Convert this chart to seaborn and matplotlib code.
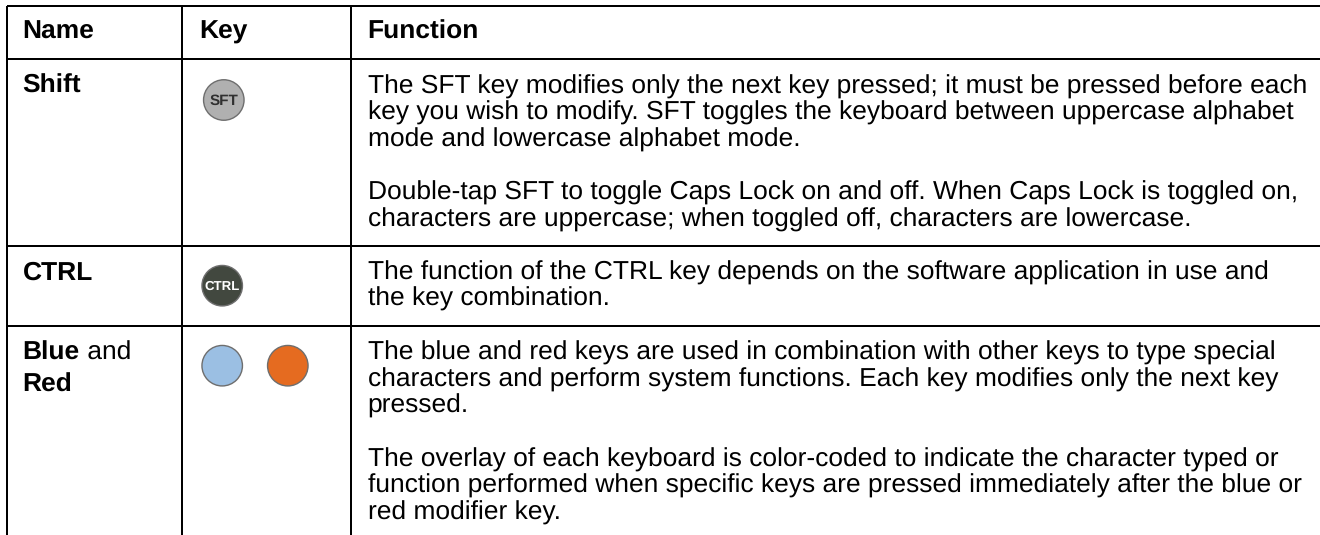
import matplotlib
matplotlib.use('Agg')
import matplotlib.pyplot as plt
import pandas as pd
import seaborn as sns

headers = ['Name', 'Key', 'Function']
row_names = ['Shift', 'CTRL']
shift_text = [
    'The SFT key modifies only the next key pressed; it must be pressed before each',
    'key you wish to modify. SFT toggles the keyboard between uppercase alphabet',
    'mode and lowercase alphabet mode.',
    '',
    'Double-tap SFT to toggle Caps Lock on and off. When Caps Lock is toggled on,',
    'characters are uppercase; when toggled off, characters are lowercase.',
]
ctrl_text = [
    'The function of the CTRL key depends on the software application in use and',
    'the key combination.',
]
blue_red_text = [
    'The blue and red keys are used in combination with other keys to type special',
    'characters and perform system functions. Each key modifies only the next key',
    'pressed.',
    '',
    'The overlay of each keyboard is color-coded to indicate the character typed or',
    'function performed when specific keys are pressed immediately after the blue or',
    'red modifier key.',
]
key_names = ['SFT', 'CTRL', 'blue', 'red']
key_labels = ['SFT', 'CTRL', '', '']
key_colors = ['#b0b0b0', '#42483f', '#9bbfe3', '#e56b20']
key_label_colors = ['#303030', '#ffffff', '#000000', '#000000']
key_label_sizes = [11, 9.5, 9.5, 9.5]

# layout in pixels
col_x = [6.5, 182, 351]
row_y = [6, 59, 245.5, 326]
line_h = 26.6
font_px = 26.4
key_x = [223.8, 222.2, 222.2, 287.8]
key_y = [100, 285.7, 365.7, 365.7]

sns.set_theme(style='white')
plt.rcParams['font.family'] = ['Liberation Sans', 'DejaVu Sans']
plt.rcParams['text.hinting'] = 'none'

fig = plt.figure(figsize=(13.2, 5.35), dpi=100)
ax = fig.add_axes([0, 0, 1, 1])

fs = font_px * 72 / 100
rule = 2 * 72 / 100

# table rules, no right edge or bottom rule in the source
for x in col_x:
    ax.plot([x, x], [row_y[0], 535], color='black', lw=rule, solid_capstyle='butt')
for y in row_y:
    ax.plot([col_x[0], 1320], [y, y], color='black', lw=rule, solid_capstyle='butt')

# key buttons
keys = pd.DataFrame({'x': key_x, 'y': key_y, 'key': key_names})
sns.scatterplot(data=keys, x='x', y='y', hue='key', palette=dict(zip(key_names, key_colors)),
                s=850, edgecolor='#6e6e6e', linewidth=1, legend=False, ax=ax, clip_on=False)
ax.set_xlim(0, 1320)
ax.set_ylim(535, 0)
ax.axis('off')
for x, y, lab, c, size in zip(key_x, key_y, key_labels, key_label_colors, key_label_sizes):
    if lab:
        ax.text(x, y + 0.7, lab, ha='center', va='center', fontsize=size, weight='bold', color=c)

# header row
for x, h in zip([22.7, 199.3, 367.7], headers):
    ax.text(x, 38.8, h, fontsize=fs, weight='bold', color='black')

# first column
ax.text(22.7, 93.2, row_names[0], fontsize=fs, weight='bold', color='black')
ax.text(22.7, 279.5, row_names[1], fontsize=fs, weight='bold', color='black')
blue = ax.text(22.7, 359.8, 'Blue', fontsize=fs, weight='bold', color='black')
ax.annotate(' and', xy=(1, 0), xycoords=blue, va='bottom', fontsize=fs, color='black')
ax.text(22.7, 392.2, 'Red', fontsize=fs, weight='bold', color='black')

# function column
for start, lines in [(93.2, shift_text), (279.5, ctrl_text), (359.8, blue_red_text)]:
    for i, line in enumerate(lines):
        ax.text(367.7, start + i * line_h, line, fontsize=fs, color='black')

fig.savefig('out.png', dpi=100)
